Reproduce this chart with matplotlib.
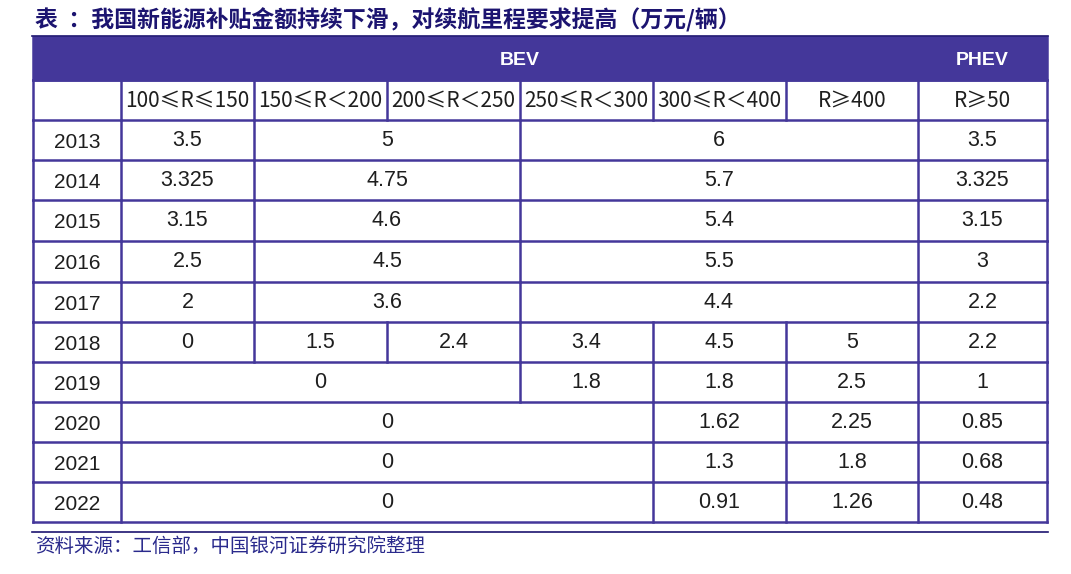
import matplotlib
matplotlib.use('Agg')
import matplotlib.pyplot as plt
from matplotlib.patches import Rectangle

plt.rcParams['font.family'] = ['Noto Sans CJK SC', 'DejaVu Sans']

# 表格数据
title = '表  ：我国新能源补贴金额持续下滑，对续航里程要求提高（万元/辆）'
source = '资料来源：工信部，中国银河证券研究院整理'
groups = ['BEV', 'PHEV']
ranges = ['100≤R≤150', '150≤R＜200', '200≤R＜250', '250≤R＜300',
          '300≤R＜400', 'R≥400', 'R≥50']
years = ['2013', '2014', '2015', '2016', '2017',
         '2018', '2019', '2020', '2021', '2022']
# 每行的数值和合并列数
row_values = [
    ['3.5', '5', '6', '3.5'],
    ['3.325', '4.75', '5.7', '3.325'],
    ['3.15', '4.6', '5.4', '3.15'],
    ['2.5', '4.5', '5.5', '3'],
    ['2', '3.6', '4.4', '2.2'],
    ['0', '1.5', '2.4', '3.4', '4.5', '5', '2.2'],
    ['0', '1.8', '1.8', '2.5', '1'],
    ['0', '1.62', '2.25', '0.85'],
    ['0', '1.3', '1.8', '0.68'],
    ['0', '0.91', '1.26', '0.48'],
]
row_spans = [
    [1, 2, 3, 1],
    [1, 2, 3, 1],
    [1, 2, 3, 1],
    [1, 2, 3, 1],
    [1, 2, 3, 1],
    [1, 1, 1, 1, 1, 1, 1],
    [3, 1, 1, 1, 1],
    [4, 1, 1, 1],
    [4, 1, 1, 1],
    [4, 1, 1, 1],
]

# 版面（像素）
W, H = 1071, 574
col_x = [33, 121, 254, 387, 520, 653, 786, 918, 1047]
band_top, band_bot = 37, 80
row_y = [80, 120, 160, 200, 241, 282, 322, 362, 402, 442, 482, 522]
purple = '#44379a'
navy = '#1c1470'
txt = '#1e1e1e'
lw = 1.8
num_font = ['Liberation Sans', 'DejaVu Sans']

fig = plt.figure(figsize=(W / 100, H / 100), dpi=100)
ax = fig.add_axes([0, 0, 1, 1])
ax.set_xlim(0, W)
ax.set_ylim(H, 0)
ax.axis('off')

# 标题
ax.text(35, 20, title, fontsize=16.5, fontweight='bold', color=navy,
        va='center', ha='left')
ax.plot([32, 1048], [36, 36], color=navy, lw=1.2)

# 表头色带
ax.add_patch(Rectangle((col_x[0], band_top), col_x[-1] - col_x[0],
                       band_bot - band_top, facecolor=purple, edgecolor=purple,
                       lw=lw))
ax.text((col_x[1] + col_x[7]) / 2, (band_top + band_bot) / 2 + 2, groups[0],
        fontsize=14, fontweight='bold', color='white', ha='center', va='center',
        family=num_font)
ax.text((col_x[7] + col_x[8]) / 2, (band_top + band_bot) / 2 + 2, groups[1],
        fontsize=14, fontweight='bold', color='white', ha='center', va='center',
        family=num_font)

# 里程区间行
yc = (row_y[0] + row_y[1]) / 2
for i, r in enumerate(ranges):
    ax.text((col_x[i + 1] + col_x[i + 2]) / 2, yc + 1, r, fontsize=15,
            color=txt, ha='center', va='center')
for x in col_x:
    ax.plot([x, x], [row_y[0], row_y[1]], color=purple, lw=lw)

# 数据行
for k, (yr, vals, spans) in enumerate(zip(years, row_values, row_spans)):
    y0, y1 = row_y[k + 1], row_y[k + 2]
    yc = (y0 + y1) / 2 + 1
    ax.text((col_x[0] + col_x[1]) / 2, yc + 1, yr, fontsize=15, color=txt,
            ha='center', va='center', family=num_font)
    c = 1
    edges = [col_x[0], col_x[1]]
    for v, s in zip(vals, spans):
        xl, xr = col_x[c], col_x[c + s]
        ax.text((xl + xr) / 2, yc - 1, v, fontsize=15.5, color=txt,
                ha='center', va='center', family=num_font)
        c += s
        edges.append(xr)
    for x in edges:
        ax.plot([x, x], [y0, y1], color=purple, lw=lw)

# 横线
for y in row_y:
    ax.plot([col_x[0], col_x[-1]], [y, y], color=purple, lw=lw)

# 资料来源
ax.plot([32, 1048], [532, 532], color=navy, lw=1.2)
ax.text(35, 546, source, fontsize=14, color='#2a2a8c', style='italic',
        va='center', ha='left')

fig.savefig('out.png', dpi=100)
